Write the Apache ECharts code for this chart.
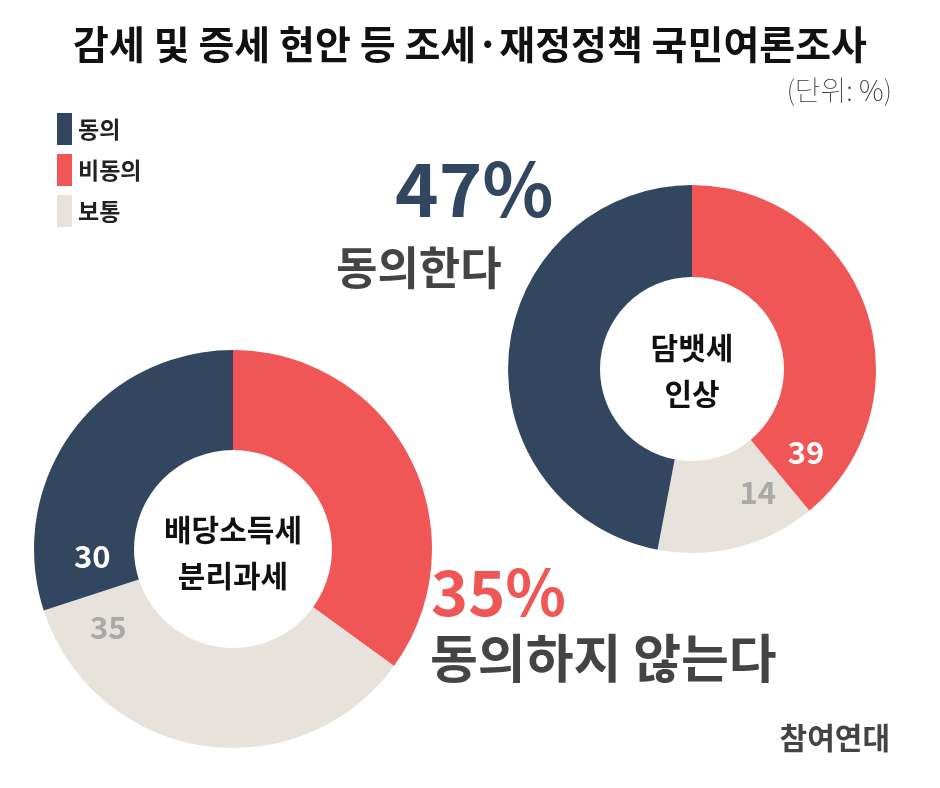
<!DOCTYPE html>
<html>
<head>
<meta charset="utf-8">
<script src="https://cdn.jsdelivr.net/npm/echarts@6/dist/echarts.min.js"></script>
<style>
  html, body { margin: 0; padding: 0; background: #fff; }
  #main { width: 940px; height: 788px; }
</style>
</head>
<body>
<div id="main"></div>
<script>
// data (unit: %)
const legendNames = ['동의', '비동의', '보통'];
// slice order clockwise from 12 o'clock
const sliceNames = ['비동의', '보통', '동의'];
const tobaccoValues = [39, 14, 47];   // 담뱃세 인상
const dividendValues = [35, 35, 30];  // 배당소득세 분리과세

const colorMap = { '동의': '#32475f', '비동의': '#f05656', '보통': '#e8e2dc' };
const FONT = '"Noto Sans CJK KR", "Noto Sans", sans-serif';

// where the value labels sit: angle clockwise from top (deg), radius px
// null = no label on that slice (the big headline text covers it)
const labelSpots = [
    [{ a: 126, r: 141, c: '#fff' }, { a: 152, r: 140, c: '#a9a9a9' }, null],
    [null, { a: 238, r: 147, c: '#a9a9a9' }, { a: 267, r: 141, c: '#fff' }]
];
const centers = [[692, 369], [233, 549]];

function makeData(values, si) {
    return sliceNames.map(function (name, i) {
        const spot = labelSpots[si][i];
        return {
            name: name,
            value: values[i],
            itemStyle: { color: colorMap[name] },
            label: spot ? { show: true, color: spot.c } : { show: false }
        };
    });
}

function pieSeries(values, si, radius) {
    return {
        type: 'pie',
        center: centers[si],
        radius: radius,
        startAngle: 90,
        clockwise: true,
        silent: true,
        avoidLabelOverlap: false,
        label: {
            position: 'inside',
            formatter: '{c}',
            fontFamily: FONT,
            fontSize: 31,
            fontWeight: 'bold'
        },
        labelLine: { show: false },
        //move the labels toward the slice edge like the original
        labelLayout: function (params) {
            const spot = labelSpots[si][params.dataIndex];
            if (!spot) return {};
            const t = spot.a * Math.PI / 180;
            return {
                x: centers[si][0] + spot.r * Math.sin(t),
                y: centers[si][1] - spot.r * Math.cos(t),
                align: 'center',
                verticalAlign: 'middle'
            };
        },
        itemStyle: { borderWidth: 0 },
        data: makeData(values, si)
    };
}

function txt(x, y, text, size, color, align, weight) {
    return {
        type: 'text',
        x: x,
        y: y,
        style: {
            text: text,
            fontFamily: FONT,
            fontSize: size,
            fontWeight: weight || 'bold',
            fill: color,
            align: align || 'left',
            verticalAlign: 'middle',
            lineHeight: 46
        }
    };
}

let chart = echarts.init(document.getElementById('main'));

let option = {
    backgroundColor: '#fff',
    animation: false,
    legend: {
        data: legendNames,
        orient: 'vertical',
        left: 57,
        top: 113,
        padding: 0,
        icon: 'rect',
        itemWidth: 15,
        itemHeight: 32,
        itemGap: 9,
        selectedMode: false,
        textStyle: { fontFamily: FONT, fontSize: 23, fontWeight: 'bold', color: '#222', padding: [0, 0, 0, 1] }
    },
    series: [
        pieSeries(tobaccoValues, 0, [92, 184]),
        pieSeries(dividendValues, 1, [99, 199])
    ],
    graphic: [
        txt(470, 44, '감세 및 증세 현안 등 조세·재정정책 국민여론조사', 39, '#111', 'center'),
        txt(892, 90, '(단위: %)', 28, '#333', 'right', 'lighter'),
        txt(395, 189, '47%', 74, '#32475f'),
        txt(336, 268, '동의한다', 45, '#444'),
        txt(431, 592, '35%', 63, '#f05656'),
        txt(430, 658, '동의하지 않는다', 52, '#444'),
        txt(890, 738, '참여연대', 30, '#444', 'right'),
        txt(692, 371, '담뱃세\n인상', 30, '#111', 'center'),
        txt(233, 553, '배당소득세\n분리과세', 30, '#111', 'center')
    ]
};

chart.setOption(option);
</script>
</body>
</html>
